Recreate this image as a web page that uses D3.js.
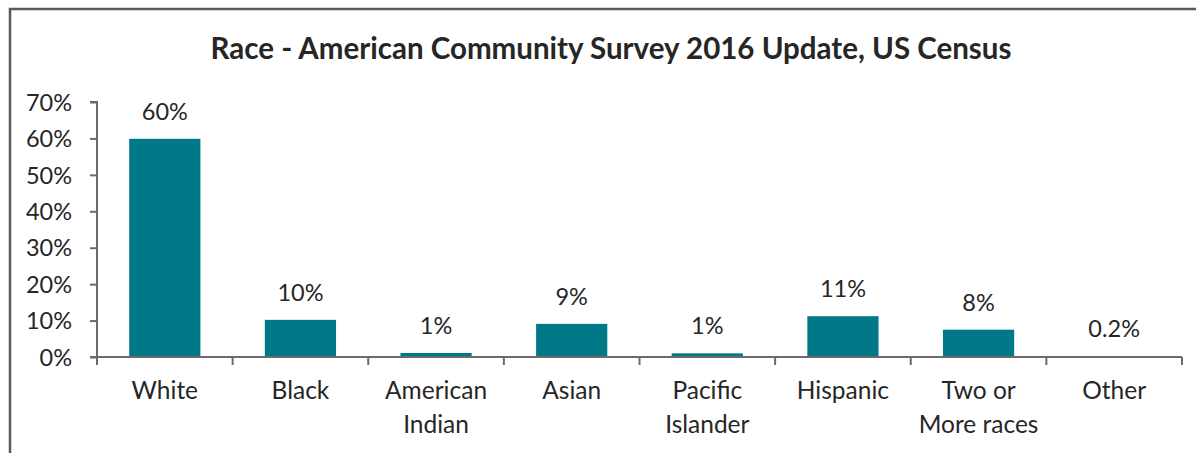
<!DOCTYPE html>
<html><head><meta charset="utf-8">
<script src="https://cdn.jsdelivr.net/npm/d3@7"></script>
<style>body{margin:0;background:#fff;} svg{display:block;}</style>
</head><body>
<svg id="chart" width="1196" height="453"></svg>
<script>
const categories = ["White","Black","American Indian","Asian","Pacific Islander","Hispanic","Two or More races","Other"];
const categoryLines = [["White"],["Black"],["American","Indian"],["Asian"],["Pacific","Islander"],["Hispanic"],["Two or","More races"],["Other"]];
const values = [0.599, 0.102, 0.011, 0.091, 0.010, 0.112, 0.075, 0.002];
const valueLabels = ["60%","10%","1%","9%","1%","11%","8%","0.2%"];
const yTicks = [0,0.1,0.2,0.3,0.4,0.5,0.6,0.7];
const title = "Race - American Community Survey 2016 Update, US Census";

const svg = d3.select("#chart");
const font = "Lato, 'Open Sans', sans-serif";
const textColor = "#262626";
const axisColor = "#6b6b6b";

// frame
svg.append("rect").attr("x",10).attr("y",9).attr("width",1230).attr("height",500)
  .attr("fill","none").attr("stroke","#5a5a5a").attr("stroke-width",2.5);

const x = d3.scaleBand().domain(categories).range([97,1182]).paddingInner(0.475).paddingOuter(0.2375);
const y = d3.scaleLinear().domain([0,0.7]).range([357,102]);

svg.append("text").attr("x",611).attr("y",59).attr("text-anchor","middle")
  .attr("font-family",font).attr("font-weight","bold").attr("font-size",29.5)
  .attr("fill",textColor).text(title);

// bars
svg.selectAll("rect.bar").data(values).join("rect").attr("class","bar")
  .attr("x",(d,i)=>x(categories[i])).attr("width",x.bandwidth())
  .attr("y",d=>y(d)).attr("height",d=>y(0)-y(d)).attr("fill","#007887");

// value labels
svg.selectAll("text.vl").data(values).join("text").attr("class","vl")
  .attr("x",(d,i)=>x(categories[i])+x.bandwidth()/2).attr("y",d=>y(d)-19)
  .attr("text-anchor","middle").attr("font-family",font).attr("font-size",23.5)
  .attr("fill",textColor).text((d,i)=>valueLabels[i]);

// y axis
const yAxis = d3.axisLeft(y).tickValues(yTicks).tickFormat(d3.format(".0%")).tickSize(7).tickPadding(18);
const gy = svg.append("g").attr("transform","translate(97,0)").call(yAxis);
gy.select(".domain").attr("stroke",axisColor).attr("stroke-width",2).attr("d","M-7,102H0V357H-7");
gy.selectAll(".tick line").attr("stroke",axisColor).attr("stroke-width",2);
gy.selectAll(".tick text").attr("font-family",font).attr("font-size",23.5).attr("fill",textColor).attr("dy","0.35em");

// x axis
const xEdges = d3.range(categories.length+1).map(i=>97 + i*(1182-97)/categories.length);
svg.append("line").attr("x1",97).attr("x2",1182).attr("y1",357).attr("y2",357)
  .attr("stroke",axisColor).attr("stroke-width",2);
svg.selectAll("line.xt").data(xEdges).join("line").attr("class","xt")
  .attr("x1",d=>d).attr("x2",d=>d).attr("y1",357).attr("y2",365)
  .attr("stroke",axisColor).attr("stroke-width",2);

const xl = svg.selectAll("text.xl").data(categoryLines).join("text").attr("class","xl")
  .attr("x",(d,i)=>x(categories[i])+x.bandwidth()/2).attr("y",399)
  .attr("text-anchor","middle").attr("font-family",font).attr("font-size",24.5).attr("fill",textColor);
xl.selectAll("tspan").data(d=>d).join("tspan")
  .attr("x",function(){return this.parentNode.getAttribute("x");})
  .attr("dy",(d,i)=>i===0?0:34).text(d=>d);
</script>
</body></html>
